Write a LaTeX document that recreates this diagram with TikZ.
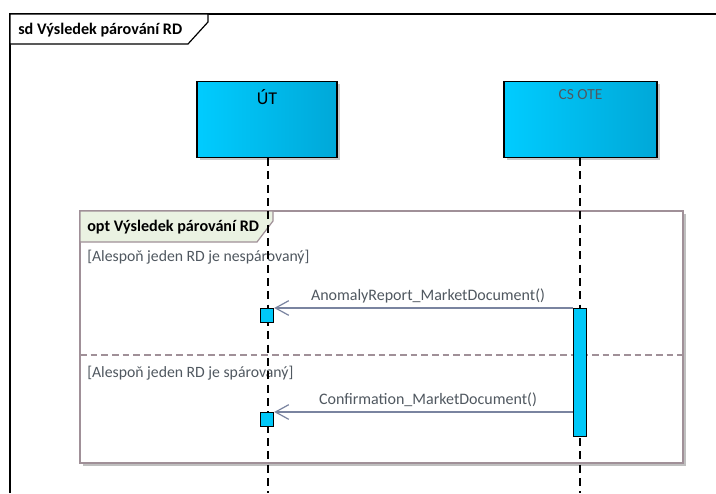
\documentclass[tikz,border=0pt]{standalone}
\usepackage{fontspec}
\setmainfont{Carlito}
\usetikzlibrary{arrows.meta,shadows}
\definecolor{boxL}{HTML}{00CCFF}
\definecolor{boxR}{HTML}{00A8D8}
\definecolor{actC}{HTML}{00C8F8}
\definecolor{msgC}{HTML}{7A84A0}
\definecolor{guardC}{HTML}{505860}
\definecolor{optFill}{HTML}{EAF2E2}
\definecolor{optLine}{HTML}{A09098}
\tikzset{
  lifebox/.style={draw=black, line width=0.9pt, shade, left color=boxL, right color=boxR,
    minimum width=#1, minimum height=57pt, inner sep=0pt,
    drop shadow={shadow xshift=2pt, shadow yshift=-2pt, fill=black!35, opacity=0.6}},
  lifeline/.style={draw=black, line width=0.9pt, dash pattern=on 6pt off 4pt},
  actbox/.style={draw=black, line width=0.8pt, fill=actC, minimum width=10pt, inner sep=0pt},
  msg/.style={draw=msgC, line width=0.9pt, -{Straight Barb[length=10pt,width=11pt,line width=0.9pt]}},
  msglbl/.style={text=guardC, font=\fontsize{12pt}{14pt}\selectfont, anchor=base, inner sep=0pt},
  guardtxt/.style={text=guardC, font=\fontsize{11.8pt}{14pt}\selectfont, anchor=base west, inner sep=0pt},
  frametitle/.style={font=\bfseries\fontsize{12.1pt}{14pt}\selectfont, anchor=base west, inner sep=0pt},
}
\begin{document}
\begin{tikzpicture}[x=0.75pt,y=-0.75pt]
\useasboundingbox (0,0) rectangle (716,493);
\fill[white] (0,0) rectangle (716,493);
% outer frame
\draw[line width=0.9pt] (10,493) -- (10,14) -- (716,14);
\draw[line width=0.9pt, fill=white] (10,14) -- (208,14) -- (208,22) -- (188,44) -- (10,44) -- cycle;
\node[frametitle] (sdtitle) at (18,34) {sd Výsledek párování RD};
% opt frame
\fill[black!25] (83,214) rectangle (686,466);
\draw[draw=optLine, line width=0.9pt, fill=white] (80,211) rectangle (683,463);
\draw[draw=optLine, line width=0.9pt, fill=optFill] (80,211) -- (273,211) -- (273,221) -- (257,242) -- (80,242) -- cycle;
\node[frametitle] (opttitle) at (87,231) {opt Výsledek párování RD};
\node[guardtxt] (g1) at (87,261) {[Alespoň jeden RD je nespárovaný]};
\draw[optLine, line width=0.9pt, dash pattern=on 5pt off 3pt] (80,355) -- (683,355);
\node[guardtxt] (g2) at (87,377) {[Alespoň jeden RD je spárovaný]};
% lifeline heads
\node[lifebox=105pt] (ut) at (267,119.5) {};
\node[lifebox=114.75pt] (cs) at (580.5,119.5) {};
\node[anchor=north, font=\fontsize{13.5pt}{15pt}\selectfont, inner sep=0pt] (utlbl) at ([yshift=-6pt]ut.north) {ÚT};
\node[anchor=north, text=guardC, font=\fontsize{11.6pt}{13pt}\selectfont, inner sep=0pt] (cslbl) at ([yshift=-6pt]cs.north) {CS OTE};
% lifelines
\coordinate (utend) at (268,493);
\coordinate (csend) at (580,493);
\draw[lifeline] (268,158) -- (utend);
\draw[lifeline] (580,158) -- (csend);
% activations
\node[actbox, minimum height=96pt, anchor=north] (csact) at (580,308) {};
\node[actbox, minimum height=10.5pt, anchor=north] (ut1) at (267,308) {};
\node[actbox, minimum height=10.5pt, anchor=north] (ut2) at (267,412) {};
% messages
\draw[msg] (csact.west |- ut1.north) -- (ut1.north east);
\draw[msg] (csact.west |- ut2.north) -- (ut2.north east);
\node[msglbl] (m1) at (428,300) {AnomalyReport\_MarketDocument()};
\node[msglbl] (m2) at (428,404) {Confirmation\_MarketDocument()};
\end{tikzpicture}
\end{document}
